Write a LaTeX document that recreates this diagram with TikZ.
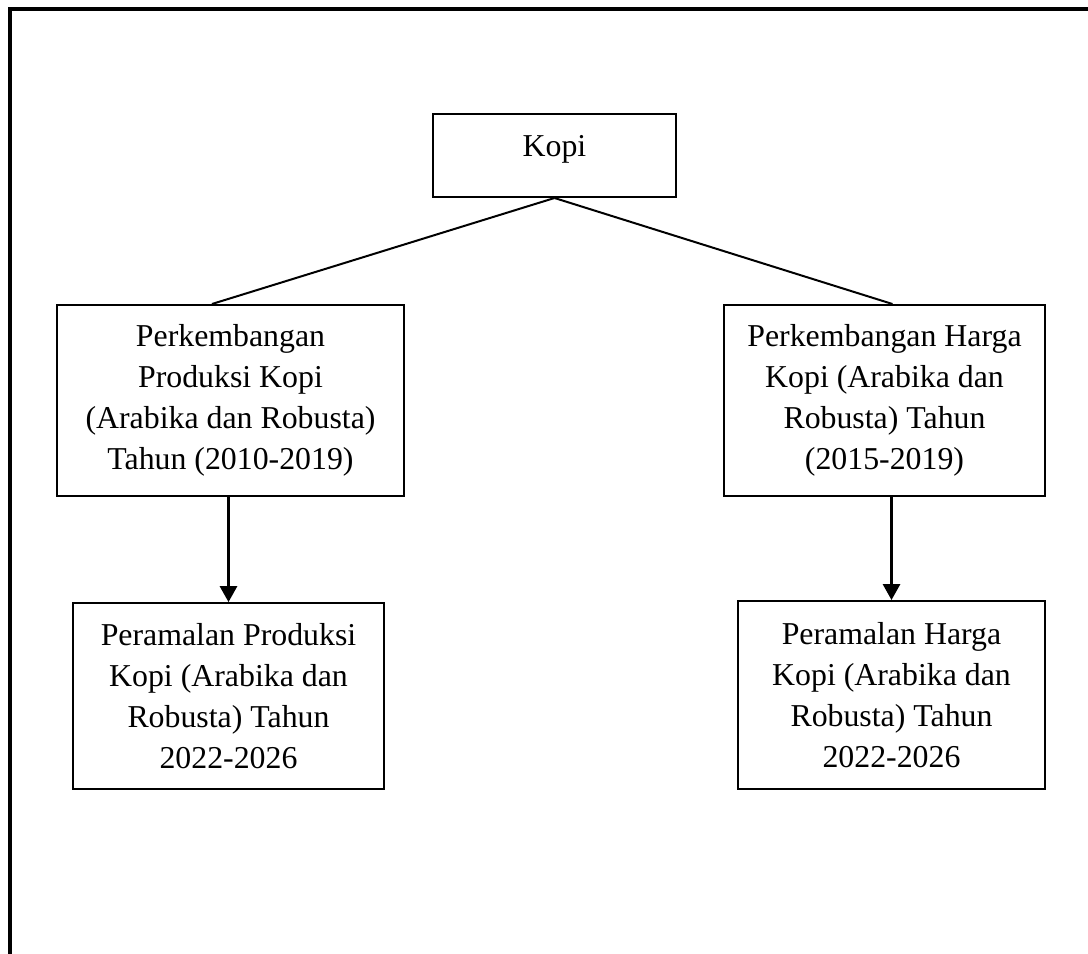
\documentclass[tikz,border=0pt]{standalone}
\usepackage{fontspec}
\setmainfont{Liberation Serif}
\usetikzlibrary{arrows.meta}

\begin{document}
\begin{tikzpicture}[x=0.377pt,y=-0.377pt,
    box/.style={draw,line width=0.75pt,align=center,inner sep=0pt,
        font=\fontsize{12}{15.5}\selectfont},
    link/.style={line width=0.75pt},
    arr/.style={line width=0.8pt,-{Triangle[width=6.5pt,length=6pt]}}]
    \useasboundingbox (0,0) rectangle (1088,954);
    \coordinate (F1) at (10,954);
    \coordinate (F2) at (1088,9);

    \draw[line width=1.2pt] (F1) |- (F2); % frame

    \node[box,minimum width=91.6pt,minimum height=31.3pt,text depth=7.4pt] (kopi) at (554.5,155.5) {Kopi};
    \node[box,minimum width=130.8pt,minimum height=72pt] (prodA) at (230.5,400.5)
        {Perkembangan\\Produksi Kopi\\(Arabika dan Robusta)\\Tahun (2010-2019)};
    \node[box,minimum width=121pt,minimum height=72pt] (hargaA) at (884.5,400.5)
        {Perkembangan Harga\\Kopi (Arabika dan\\Robusta) Tahun\\(2015-2019)};
    \node[box,minimum width=117.2pt,minimum height=70.1pt] (prodB) at (228.5,696)
        {Peramalan Produksi\\Kopi (Arabika dan\\Robusta) Tahun\\2022-2026};
    \node[box,minimum width=115.7pt,minimum height=70.9pt] (hargaB) at (891.5,695)
        {Peramalan Harga\\Kopi (Arabika dan\\Robusta) Tahun\\2022-2026};

    \draw[link] (kopi.south) -- ([xshift=-7pt]prodA.north); % left branch
    \draw[link] (kopi.south) -- ([xshift=3pt]hargaA.north); % right branch

    \draw[arr] (prodA.south -| prodB.north) -- (prodB.north);
    \draw[arr] (hargaA.south -| hargaB.north) -- (hargaB.north);

\end{tikzpicture}
\end{document}
